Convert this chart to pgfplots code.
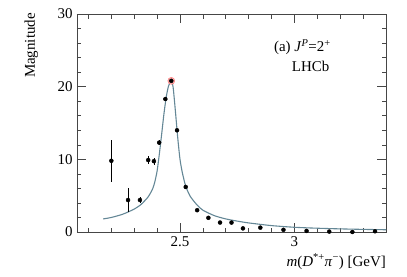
\documentclass[border=0pt]{standalone}
\usepackage{fontspec}
\setmainfont{Liberation Serif}
\usepackage{pgfplots}
\pgfplotsset{compat=1.18}
\definecolor{curvec}{RGB}{100,135,150}
\definecolor{axc}{RGB}{70,70,70}
\begin{document}
\begin{tikzpicture}
\begin{axis}[name=ax,
  scale only axis, width=309bp, height=218bp,
  xmin=2.05, xmax=3.4, ymin=0, ymax=30,
  clip=false,
  axis line style={axc, line width=0.8pt},
  xtick={2.5,3}, xticklabels={2.5,3},
  minor xtick={2.1,2.2,2.3,2.4,2.6,2.7,2.8,2.9,3.1,3.2,3.3},
  ytick={0,10,20,30},
  minor ytick={2,4,6,8,12,14,16,18,22,24,26,28},
  tick align=inside,
  xtick pos=both, ytick pos=both,
  major tick length=9bp, minor tick length=4.5bp,
  every tick/.style={axc, line width=0.6pt},
  ticklabel style={font=\fontsize{15}{18}\selectfont},
  /pgf/number format/assume math mode=true,
  xticklabel style={yshift=-1bp},
  yticklabel style={xshift=-1bp},
]
\addplot[curvec, line width=1.1pt, smooth, tension=0.4] coordinates {
(2.164,1.8) (2.20,2.0) (2.25,2.45) (2.30,3.15) (2.33,3.8) (2.36,4.8)
(2.38,5.9) (2.39,6.9) (2.40,8.4) (2.41,10.8) (2.42,13.5) (2.43,16.3)
(2.44,18.6) (2.45,20.1) (2.462,20.8) (2.47,19.9) (2.48,16.6) (2.49,13.0)
(2.50,10.0) (2.51,8.2) (2.525,6.3) (2.545,4.9) (2.575,3.7) (2.60,3.0)
(2.65,2.25) (2.70,1.8) (2.75,1.5) (2.80,1.25) (2.90,0.88) (3.00,0.65)
(3.10,0.52) (3.20,0.43) (3.30,0.36) (3.40,0.31)
};
\addplot[only marks, mark=*, mark size=3.5bp, mark options={fill=red!30, draw=red!55, line width=0.4pt}] coordinates {(2.462,20.8)};
\addplot[only marks, mark=*, mark size=2bp, black,
  error bars/.cd, y dir=both, y explicit, error bar style={black, line width=0.8pt}, error mark=none]
  table[x=x, y=y, y error=e] {
x y e
2.200 9.8 2.9
2.273 4.4 1.6
2.325 4.4 0.4
2.361 9.9 0.55
2.386 9.75 0.5
2.409 12.3 0.3
2.436 18.3 0.2
2.462 20.8 0
2.487 14.0 0
2.525 6.2 0
2.575 3.0 0
2.624 1.95 0
2.675 1.3 0
2.725 1.3 0
2.775 0.5 0
2.851 0.6 0
2.952 0.3 0
3.053 0.15 0
3.152 0.06 0
3.253 0.0 0
3.352 0.1 0
};
\node[anchor=base west, font=\fontsize{15}{18}\selectfont, inner sep=0pt] at (axis cs:2.91,24.8) {(a) \textit{J}\textsuperscript{\textit{P}}=2\textsuperscript{+}};
\node[anchor=base west, font=\fontsize{15}{18}\selectfont, inner sep=0pt] at (axis cs:2.988,22.1) {LHCb};
\node[anchor=base east, font=\fontsize{15}{18}\selectfont, inner sep=0pt, yshift=-34bp] at (rel axis cs:1,0) {\textit{m}(\textit{D}\textsuperscript{*+}\textit{π}\textsuperscript{−}) [GeV]};
\end{axis}
\node[anchor=base east, rotate=90, font=\fontsize{15}{18}\selectfont, inner sep=0pt] at ([xshift=-42bp, yshift=1bp]ax.north west) {Magnitude};
\pgfresetboundingbox
\path[use as bounding box] ([shift={(-77bp,-45bp)}]ax.south west) rectangle ([shift={(21bp,14bp)}]ax.north east);
\end{tikzpicture}
\end{document}
